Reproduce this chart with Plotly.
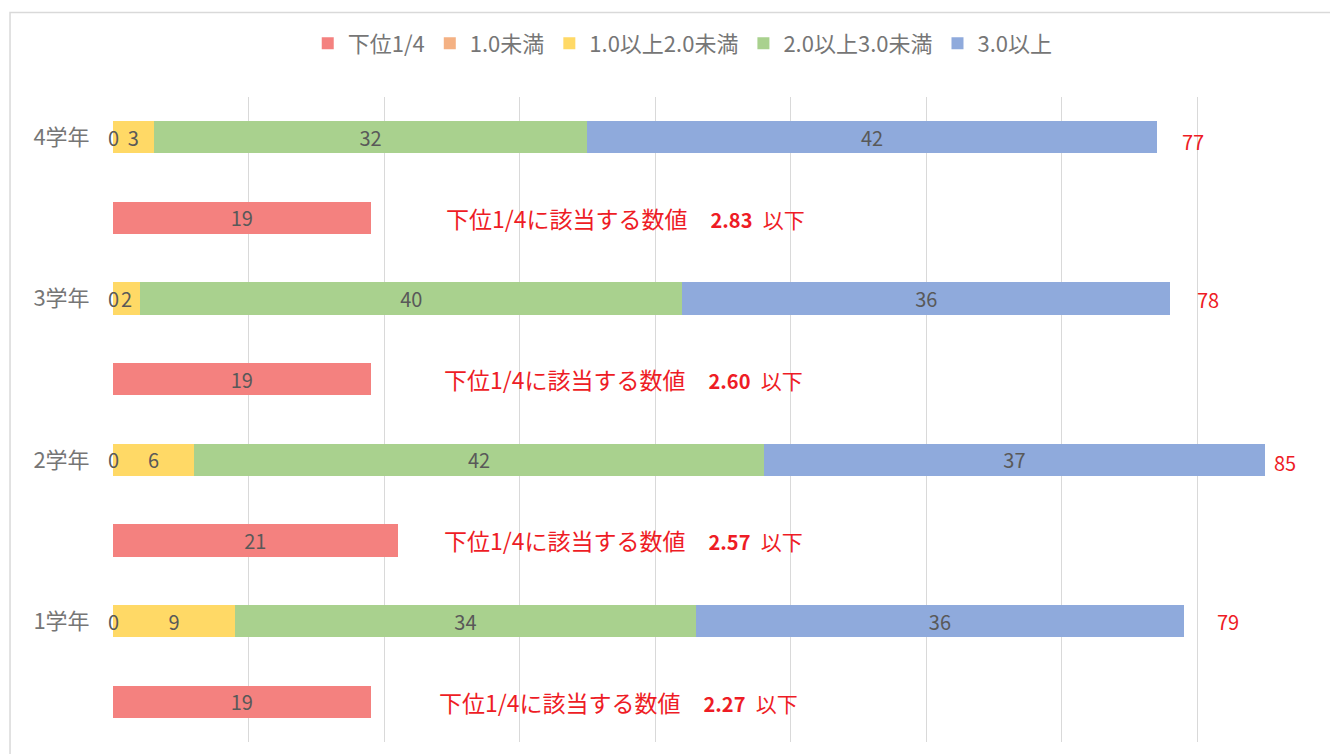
import plotly.graph_objects as go

# ---- data ----
grades = ["1学年", "2学年", "3学年", "4学年"]
lower_quarter = [19, 21, 19, 19]          # 下位1/4
under_1 = [0, 0, 0, 0]                    # 1.0未満
from_1_to_2 = [9, 6, 2, 3]                # 1.0以上2.0未満
from_2_to_3 = [34, 42, 40, 32]            # 2.0以上3.0未満
over_3 = [36, 37, 36, 42]                 # 3.0以上
thresholds = ["2.27", "2.57", "2.60", "2.83"]
series_names = ["下位1/4", "1.0未満", "1.0以上2.0未満", "2.0以上3.0未満", "3.0以上"]

# ---- styling / layout helpers ----
colors = ["#F4817F", "#F4B183", "#FFD966", "#A9D18E", "#8FAADC"]
FONT = "Noto Sans CJK JP"
GRAY = "#595959"
LIGHTGRAY = "#767676"
RED = "#EE1C25"
grade_pos = [1, 3, 5, 7]
lower_pos = [0, 2, 4, 6]
total_offsets = [3.25, 1.45, 2.8, 2.65]
total_yshift = [0, -3, -1, -4]
note_x = [23.9, 24.3, 24.3, 24.45]

fig = go.Figure()

fig.add_trace(go.Bar(
    name=series_names[0], y=lower_pos, x=lower_quarter, orientation="h",
    width=0.4, marker=dict(color=colors[0], line=dict(width=0)),
    text=[str(v) for v in lower_quarter], textposition="inside", textangle=0,
    insidetextanchor="middle", insidetextfont=dict(color=GRAY, size=20, family=FONT),
))

stack_series = [under_1, from_1_to_2, from_2_to_3, over_3]
for i, vals in enumerate(stack_series):
    fig.add_trace(go.Bar(
        name=series_names[i + 1], y=grade_pos, x=vals, orientation="h",
        width=0.4, marker=dict(color=colors[i + 1], line=dict(width=0)),
        text=[str(v) if v != 0 else "" for v in vals], textposition="inside", textangle=0,
        insidetextanchor="middle", insidetextfont=dict(color=GRAY, size=20, family=FONT),
    ))

annotations = []
# zero labels for the zero-width segments
for gp, v in zip(grade_pos, under_1):
    if v == 0:
        annotations.append(dict(x=0, y=gp, xref="x", yref="y", text="0", showarrow=False,
                                font=dict(color=GRAY, size=20, family=FONT)))
# totals
for k in range(4):
    total = under_1[k] + from_1_to_2[k] + from_2_to_3[k] + over_3[k]
    annotations.append(dict(x=total + total_offsets[k], y=grade_pos[k], xref="x", yref="y",
                            text=str(total), showarrow=False, yshift=total_yshift[k],
                            font=dict(color=RED, size=20, family=FONT)))
# threshold notes
for k in range(4):
    annotations.append(dict(
        x=note_x[k], y=lower_pos[k], xref="x", yref="y", xanchor="left",
        text=(f"下位1/4に該当する数値　<span style='font-size:20px'><b>{thresholds[k]}</b></span>"
              f"  <span style='font-size:21px'>以下</span>"),
        showarrow=False, font=dict(color=RED, size=23, family=FONT)))

fig.update_layout(
    width=1330, height=746,
    margin=dict(l=105, r=5, t=88.6, b=11.6),
    barmode="stack",
    plot_bgcolor="white", paper_bgcolor="white",
    font=dict(family=FONT, color=GRAY),
    uniformtext=dict(minsize=20, mode="show"),
    legend=dict(orientation="h", x=0.467, xanchor="center", y=1.083, yanchor="middle",
                font=dict(size=22, color=LIGHTGRAY, family=FONT), traceorder="normal"),
    xaxis=dict(range=[0, 90], dtick=10, showgrid=True, gridcolor="#D9D9D9", gridwidth=1,
               showticklabels=False, zeroline=False, showline=False, fixedrange=True),
    yaxis=dict(range=[-0.5, 7.5], tickvals=grade_pos, ticktext=grades, showgrid=False,
               zeroline=False, showline=False, ticks="outside", ticklen=18,
               tickcolor="rgba(0,0,0,0)", tickfont=dict(size=22, color=LIGHTGRAY, family=FONT)),
    annotations=annotations,
    shapes=[dict(type="rect", xref="paper", yref="paper", x0=-0.0844, x1=1.2, y0=-0.2, y1=1.131,
                 line=dict(color="#D9D9D9", width=1.5), layer="below")],
    showlegend=True,
)

fig.write_html("out.html")
